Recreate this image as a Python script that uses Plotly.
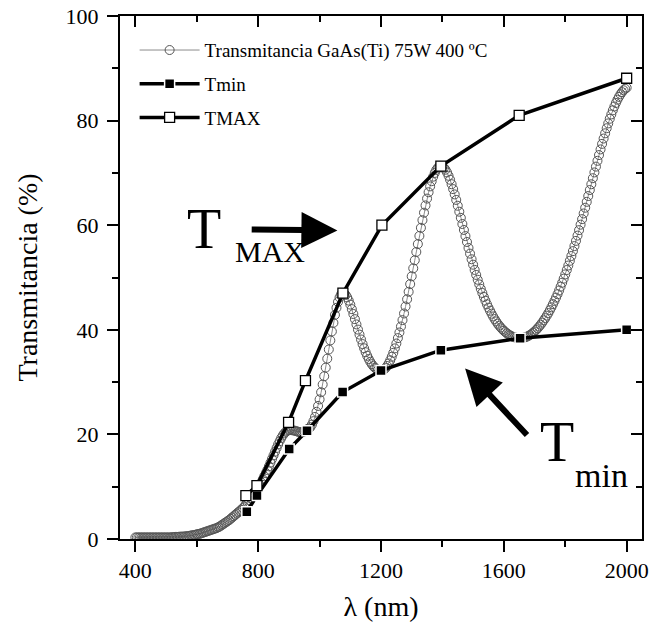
import plotly.graph_objects as go

# ---------------- data ----------------
wl_start, wl_stop, wl_step = 400, 2000, 5
wavelength = list(range(wl_start, wl_stop + 1, wl_step))
transmitancia = [
    # 400-500
    0.3, 0.3, 0.3, 0.3, 0.3, 0.3, 0.3, 0.3, 0.3, 0.3, 0.3, 0.3, 0.3, 0.3, 0.3, 0.3, 0.3, 0.3, 0.3, 0.3, 0.3,
    # 505-550
    0.3, 0.3, 0.3, 0.35, 0.35, 0.4, 0.4, 0.4, 0.45, 0.45,
    # 555-600
    0.45, 0.5, 0.5, 0.55, 0.6, 0.65, 0.7, 0.75, 0.8, 0.9,
    # 605-700
    0.95, 1.0, 1.1, 1.2, 1.3, 1.4, 1.5, 1.6, 1.7, 1.8, 1.9, 2.0, 2.1, 2.25, 2.4, 2.6, 2.8, 3.0, 3.2, 3.4,
    # 705-800
    3.6, 3.85, 4.1, 4.35, 4.6, 4.85, 5.1, 5.35, 5.6, 5.9, 6.2, 6.6, 7.0, 7.4, 7.8, 8.2, 8.6, 9.0, 9.4, 9.8,
    # 805-900
    10.3, 10.8, 11.4, 12.0, 12.6, 13.2, 13.9, 14.6, 15.3, 16.0, 16.7, 17.4, 18.1, 18.7, 19.3, 19.8, 20.2, 20.5, 20.7, 20.8,
    # 905-1000
    20.85, 20.8, 20.75, 20.7, 20.6, 20.5, 20.45, 20.4, 20.45, 20.55, 20.7, 21.0, 21.10, 21.39, 21.87, 22.53, 23.33, 24.32, 25.44, 26.69,
    # 1005-1100
    28.06, 29.54, 31.12, 32.77, 34.48, 36.23, 37.97, 39.68, 41.33, 42.85, 44.21, 45.34, 46.20, 46.76, 46.99, 46.93, 46.66, 46.20, 45.58, 44.82,
    # 1105-1200
    43.95, 43.02, 42.04, 41.03, 40.04, 39.08, 38.15, 37.27, 36.46, 35.71, 35.03, 34.42, 33.89, 33.43, 33.05, 32.74, 32.50, 32.33, 32.23, 32.2,
    # 1205-1300
    32.26, 32.42, 32.70, 33.08, 33.57, 34.16, 34.84, 35.60, 36.45, 37.38, 38.41, 39.49, 40.63, 41.85, 43.12, 44.46, 45.84, 47.27, 48.74, 50.23,
    # 1305-1400
    51.75, 53.29, 54.88, 56.39, 57.95, 59.50, 60.96, 62.39, 63.78, 65.09, 66.30, 67.42, 68.41, 69.28, 69.99, 70.57, 70.97, 71.22, 71.3, 71.21,
    # 1405-1500
    70.98, 70.60, 70.09, 69.45, 68.69, 67.84, 66.90, 65.89, 64.83, 63.72, 62.58, 61.41, 60.23, 59.09, 57.92, 56.79, 55.65, 54.56, 53.49, 52.45,
    # 1505-1600
    51.45, 50.49, 49.57, 48.68, 47.84, 47.04, 46.28, 45.56, 44.88, 44.24, 43.65, 43.08, 42.55, 42.05, 41.60, 41.17, 40.79, 40.44, 40.12, 39.83,
    # 1605-1700
    39.57, 39.32, 39.12, 38.93, 38.78, 38.65, 38.56, 38.48, 38.43, 38.41, 38.40, 38.43, 38.49, 38.57, 38.69, 38.83, 39.00, 39.19, 39.42, 39.69,
    # 1705-1800
    39.96, 40.28, 40.62, 40.98, 41.38, 41.81, 42.23, 42.71, 43.20, 43.75, 44.31, 44.90, 45.52, 46.15, 46.81, 47.51, 48.25, 49.00, 49.78, 50.59,
    # 1805-1900
    51.43, 52.29, 53.19, 54.11, 55.04, 56.01, 57.00, 58.01, 59.05, 60.10, 61.16, 62.24, 63.34, 64.46, 65.58, 66.72, 67.83, 68.98, 70.09, 71.20,
    # 1905-2000
    72.31, 73.41, 74.49, 75.55, 76.57, 77.57, 78.54, 79.46, 80.35, 81.18, 81.97, 82.70, 83.37, 83.99, 84.54, 85.03, 85.45, 85.80, 86.08, 86.29,
]

tmin_x = [763, 796, 901, 959, 1075, 1200, 1395, 1653, 2000]
tmin_y = [5.2, 8.3, 17.2, 20.7, 28.1, 32.2, 36.1, 38.4, 40.0]

tmax_x = [760, 796, 899, 954, 1076, 1203, 1395, 1650, 2000]
tmax_y = [8.3, 10.2, 22.3, 30.3, 47.0, 60.0, 71.3, 81.0, 88.1]

x_tick_vals = [400, 800, 1200, 1600, 2000]
y_tick_vals = [0, 20, 40, 60, 80, 100]

series_names = ["Transmitancia GaAs(Ti) 75W 400 ºC", "Tmin", "TMAX"]

# ---------------- figure ----------------
FONT = "Liberation Serif, Times New Roman, serif"

fig = go.Figure()

fig.add_trace(go.Scatter(
    x=wavelength, y=transmitancia, name=series_names[0], mode="lines+markers",
    line=dict(color="#8c8c8c", width=1),
    marker=dict(symbol="circle-open", size=9, color="#555555", line=dict(width=1, color="#555555")),
    legendgroup="a",
))
fig.add_trace(go.Scatter(
    x=tmin_x, y=tmin_y, name=series_names[1], mode="lines+markers",
    line=dict(color="black", width=3.5),
    marker=dict(symbol="square", size=10, color="black", line=dict(width=1.5, color="white")),
    legendgroup="b",
))
fig.add_trace(go.Scatter(
    x=tmax_x, y=tmax_y, name=series_names[2], mode="lines+markers",
    line=dict(color="black", width=3.5),
    marker=dict(symbol="square", size=10, color="white", line=dict(width=1.3, color="black")),
    legendgroup="c",
))
# invisible trace to hold mirrored inner-tick axes
fig.add_trace(go.Scatter(x=[None], y=[None], xaxis="x2", yaxis="y2", showlegend=False, hoverinfo="skip"))

xr = [350, 2050]
yr = [0, 100]

common_axis = dict(showgrid=False, zeroline=False, linecolor="black", linewidth=2,
                   tickcolor="black", tickwidth=2, ticklen=11, automargin=False,
                   ticklabeloverflow="allow",
                   tickfont=dict(family=FONT, size=22, color="black"))

fig.update_layout(
    width=651, height=641,
    margin=dict(l=119.5, r=9.3, t=15.5, b=101.7, autoexpand=False),
    paper_bgcolor="white", plot_bgcolor="white",
    font=dict(family=FONT, color="black"),
    showlegend=True,
    legend=dict(x=0.028, y=0.971, xanchor="left", yanchor="top",
                bgcolor="rgba(0,0,0,0)", font=dict(family=FONT, size=19, color="black"),
                itemwidth=60, traceorder="grouped", tracegroupgap=6),
    xaxis=dict(range=xr, tickvals=x_tick_vals, ticks="outside", mirror=True,
               minor=dict(dtick=200, tick0=400, ticks="outside", ticklen=6, tickwidth=2, tickcolor="black"),
               title=dict(text="λ (nm)", font=dict(family=FONT, size=28, color="black"), standoff=14),
               ticklabelstandoff=0,
               **common_axis),
    yaxis=dict(range=yr, tickvals=y_tick_vals, ticks="outside", mirror=True,
               minor=dict(dtick=10, tick0=0, ticks="outside", ticklen=6, tickwidth=2, tickcolor="black"),
               title=dict(text="Transmitancia (%)", font=dict(family=FONT, size=28, color="black"), standoff=20),
               ticklabelstandoff=4,
               **common_axis),
    xaxis2=dict(range=xr, overlaying="x", side="top", anchor="y2", tickvals=x_tick_vals,
                ticks="inside", ticklen=11, tickwidth=2, tickcolor="black", showticklabels=False,
                showgrid=False, zeroline=False, showline=False, automargin=False,
                minor=dict(dtick=200, tick0=400, ticks="inside", ticklen=6, tickwidth=2, tickcolor="black")),
    yaxis2=dict(range=yr, overlaying="y", side="right", anchor="x2", tickvals=y_tick_vals,
                ticks="inside", ticklen=11, tickwidth=2, tickcolor="black", showticklabels=False,
                showgrid=False, zeroline=False, showline=False, automargin=False,
                minor=dict(dtick=10, tick0=0, ticks="inside", ticklen=6, tickwidth=2, tickcolor="black")),
)

# annotation labels
fig.add_annotation(x=624, y=59.2, xref="x", yref="y", text="T", showarrow=False,
                   font=dict(family=FONT, size=56, color="black"))
fig.add_annotation(x=838, y=55.0, xref="x", yref="y", text="MAX", showarrow=False,
                   font=dict(family=FONT, size=30, color="black"))
fig.add_annotation(x=1772, y=18.5, xref="x", yref="y", text="T", showarrow=False,
                   font=dict(family=FONT, size=56, color="black"))
fig.add_annotation(x=1918, y=12.1, xref="x", yref="y", text="min", showarrow=False,
                   font=dict(family=FONT, size=34, color="black"))

# arrows
fig.add_annotation(x=1058, y=59.0, ax=774, ay=59.2, xref="x", yref="y", axref="x", ayref="y",
                   text="", showarrow=True, arrowhead=2, arrowsize=1.2, arrowwidth=6,
                   arrowcolor="black", standoff=0, startstandoff=0)
fig.add_annotation(x=1474, y=32.6, ax=1680, ay=19.6, xref="x", yref="y", axref="x", ayref="y",
                   text="", showarrow=True, arrowhead=2, arrowsize=1.2, arrowwidth=6,
                   arrowcolor="black", standoff=0, startstandoff=0)

# remove the default page margin so the figure fills the window exactly
fig.write_html("out.html", config={"displayModeBar": False},
               post_script="document.body.style.margin='0';")
